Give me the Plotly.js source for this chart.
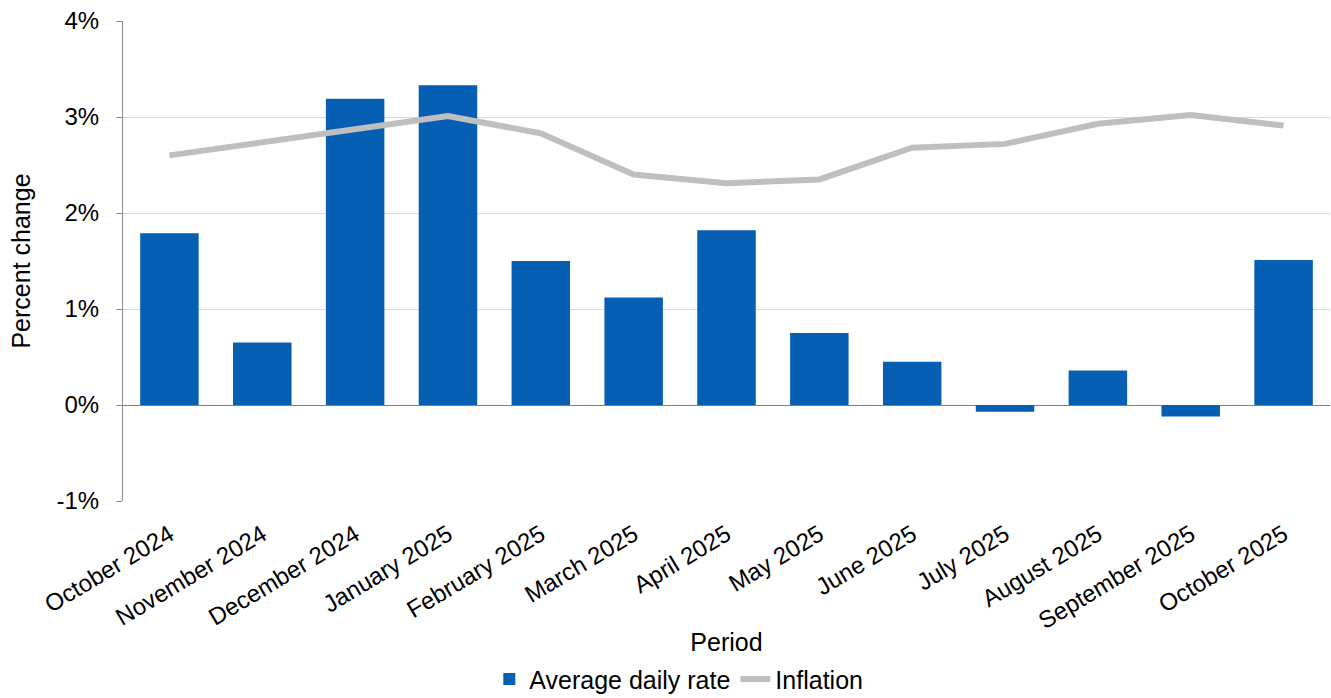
<!DOCTYPE html>
<html>
<head>
<meta charset="utf-8">
<script src="https://cdn.plot.ly/plotly-3.0.1.min.js"></script>
<style>html,body{margin:0;padding:0;background:#fff;}#chart{width:1331px;height:698px;}</style>
</head>
<body>
<div id="chart"></div>
<script>
const periods = ["October 2024","November 2024","December 2024","January 2025","February 2025","March 2025","April 2025","May 2025","June 2025","July 2025","August 2025","September 2025","October 2025"];
const averageDailyRate = [1.79, 0.65, 3.19, 3.33, 1.50, 1.12, 1.82, 0.75, 0.45, -0.07, 0.36, -0.12, 1.51];
const inflation = [2.60, 2.74, 2.87, 3.01, 2.83, 2.40, 2.31, 2.35, 2.68, 2.72, 2.93, 3.02, 2.91];
const yTickVals = [-1, 0, 1, 2, 3, 4];
const yTickText = ["-1%", "0%", "1%", "2%", "3%", "4%"];

const font = "Liberation Sans, Arial, sans-serif";
const data = [
  {type: "bar", name: "Average daily rate", x: periods, y: averageDailyRate,
   marker: {color: "#075fb3"}},
  {type: "scatter", mode: "lines", name: "Inflation", x: periods, y: inflation,
   line: {color: "#bfbfbf", width: 6}}
];
const layout = {
  width: 1331, height: 698,
  margin: {l: 123, r: 1, t: 21, b: 197},
  paper_bgcolor: "#fff", plot_bgcolor: "#fff",
  font: {family: font, size: 24, color: "#000"},
  bargap: 0.37,
  showlegend: true,
  legend: {orientation: "h", xref: "container", yref: "container",
           x: 0.51, xanchor: "center", y: 0.027, yanchor: "middle",
           font: {size: 25}, itemwidth: 30, traceorder: "normal"},
  xaxis: {
    type: "category", tickangle: -31, tickfont: {size: 24},
    showgrid: false, showline: false, ticks: "", automargin: false,
    ticklabelstandoff: 14,
    title: {text: "Period", font: {size: 25}, standoff: 0}
  },
  yaxis: {
    range: [-1, 4], tickvals: yTickVals, ticktext: yTickText,
    showgrid: true, gridcolor: "#d9d9d9", gridwidth: 1,
    zeroline: true, zerolinecolor: "#808080", zerolinewidth: 1,
    showline: true, linecolor: "#8c8c8c", linewidth: 1,
    ticks: "outside", ticklen: 6, tickcolor: "#8c8c8c",
    ticklabelstandoff: 12, automargin: false,
    tickfont: {size: 24},
    title: {text: "Percent change", font: {size: 25}, standoff: 18}
  }
};
Plotly.newPlot("chart", data, layout, {displayModeBar: false, staticPlot: true});
</script>
</body>
</html>
